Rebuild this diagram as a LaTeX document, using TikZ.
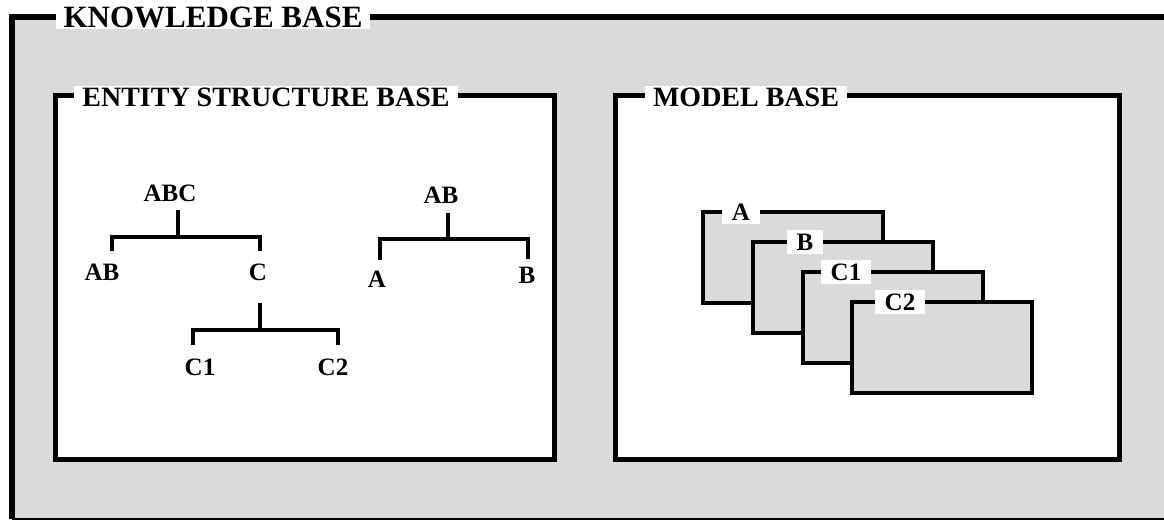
\documentclass[tikz,border=0pt]{standalone}
\usepackage{fontspec}
\setmainfont{Liberation Serif}
\usetikzlibrary{positioning,calc}
\definecolor{stip}{HTML}{DADADA}
\tikzset{
  % stippled scan fill is drawn as a flat light gray
  frame/.style   = {draw=black, line width=2.5pt, fill=white},
  outer/.style   = {draw=black, line width=3pt},
  ttl/.style     = {fill=white, inner xsep=4pt, inner ysep=1pt,
                    font=\bfseries\fontsize{14}{14}\selectfont},
  bigttl/.style  = {ttl, font=\bfseries\fontsize{15.5}{15.5}\selectfont},
  lbl/.style     = {inner sep=0pt, text height=8.2pt, text depth=0pt,
                    font=\bfseries\fontsize{12.5}{12.5}\selectfont},
  tree/.style    = {draw=black, line width=2pt},
  card/.style    = {draw=black, line width=2.4pt, fill=stip, anchor=north west,
                    minimum width=90pt, minimum height=45.5pt, inner sep=0pt, outer sep=0pt},
  cardlbl/.style = {lbl, fill=white, inner xsep=5pt, inner ysep=2pt},
}
\begin{document}
\begin{tikzpicture}[x=0.5pt,y=-0.5pt]
\useasboundingbox (0,0) rectangle (1164,523);
% knowledge base
\fill[stip] (12,17) rectangle (1164,519);
\draw[outer] (1164,17) -- (12,17) -- (12,519);
\draw[black, line width=0.8pt] (12,519) -- (1164,519);
\node[bigttl] (kb) at (213,17) {KNOWLEDGE BASE};
% the two bases
\draw[frame] (55,96) rectangle (554,460);
\node[ttl] (esb) at (266,97) {ENTITY STRUCTURE BASE};
\draw[frame] (615,96) rectangle (1119,460);
\node[ttl] (mb) at (746,97) {MODEL BASE};
% entity structure ABC
\node[lbl] (abc) at (170,193) {ABC};
\node[lbl] (ab) at (102,272) {AB};
\node[lbl] (c) at (258,272) {C};
\node[lbl] (c1) at (200,367) {C1};
\node[lbl] (c2) at (333,367) {C2};
\coordinate (j1) at (178,237);
\coordinate (j2) at (260,330);
\draw[tree, shorten <=4pt] (abc.south -| j1) -- (j1);
\draw[tree, shorten <=6pt, shorten >=6pt] ([xshift=5pt]ab.north) |- (j1) -| ([xshift=1pt]c.north);
\draw[tree, shorten <=11pt] (c.south -| j2) -- (j2);
\draw[tree, shorten <=6.5pt, shorten >=6.5pt] ([xshift=-3.5pt]c1.north) |- (j2) -| ([xshift=2.5pt]c2.north);
% entity structure AB
\node[lbl] (ab2) at (441,195) {AB};
\node[lbl] (a) at (377,279) {A};
\node[lbl] (b) at (527,275) {B};
\coordinate (j3) at (448,239);
\draw[tree, shorten <=4.5pt] (ab2.south -| j3) -- (j3);
\draw[tree, shorten <=5pt, shorten >=3.5pt] ([xshift=1.5pt]a.north) |- (j3) -| ([xshift=0.5pt]b.north);
% model cards
\foreach \n/\t/\x/\y/\o in {ca/A/703/212/38, cb/B/753/242/52, cc/C1/803/272/43, cd/C2/852/302/48} {
  \node[card] (\n) at (\x,\y) {};
  \node[cardlbl] (\n l) at ($(\n.north west)+(\o,0)$) {\t};
}
\end{tikzpicture}
\end{document}
